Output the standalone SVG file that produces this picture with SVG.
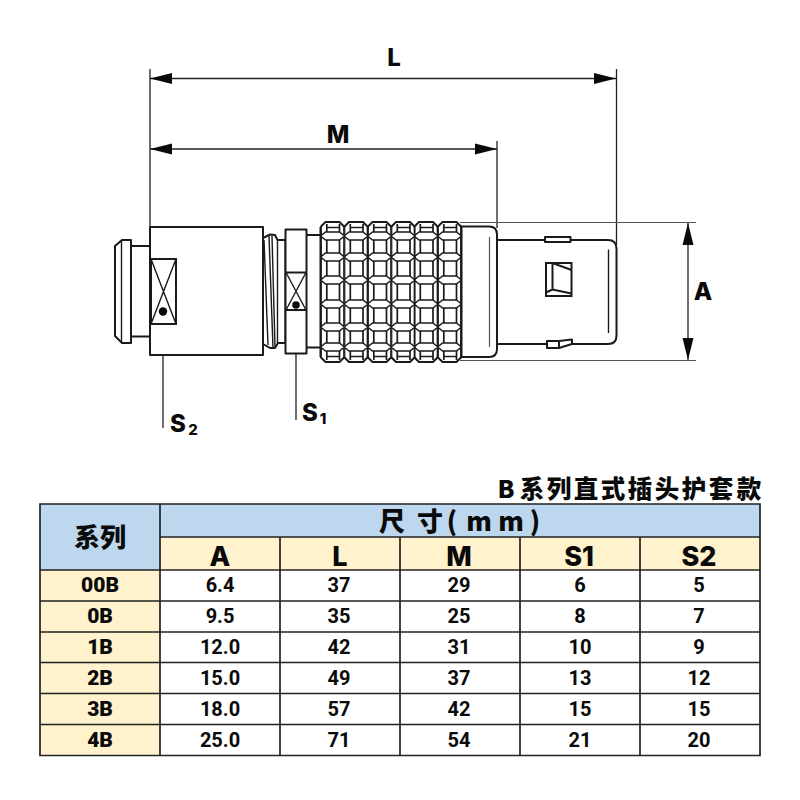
<svg xmlns="http://www.w3.org/2000/svg" xmlns:xlink="http://www.w3.org/1999/xlink" width="800" height="800" viewBox="0 0 800 800">
<style>
text{font-family:"Noto Sans CJK SC","Noto Sans",sans-serif;font-weight:900;fill:#0a0a0a;text-anchor:middle}
.o{fill:#fff;stroke:#1a1a1a;stroke-width:2;stroke-linejoin:round}
.n{fill:none;stroke:#1a1a1a;stroke-width:1.4}
.k{fill:none;stroke:#1a1a1a;stroke-width:1.7}
.h6{fill:#fff;stroke:#1a1a1a;stroke-width:1.6;stroke-linejoin:round}
.m{fill:none;stroke:#1a1a1a;stroke-width:2}
.d{fill:none;stroke:#222;stroke-width:1.3}
.g{fill:none;stroke:#555;stroke-width:1.2}
.a{fill:#0a0a0a}
.lat{font-family:Inter,"Noto Sans",sans-serif;font-weight:800}
.dim{font-size:24px}
.sub{font-size:15px}
.grid{fill:none;stroke:#222;stroke-width:1.7}
.v text{font-family:Roboto,"Noto Sans",sans-serif;font-weight:700;font-size:20px}
.r text{font-family:Roboto,"Noto Sans",sans-serif;font-weight:900;font-size:21px}
.h{font-size:27px}
</style>
<defs>
<polygon id="hex" class="h6" points="0,0 5,-4 19,-4 24,0 19,4 5,4"/>
<g id="col">
<path fill="#fff" d="M0,227 L5,222 L19,222 L24,227 L24,357 L19,362 L5,362 L0,357 Z"/>
<path class="m" d="M0,227 L5,222 L19,222 L24,227 M0,357 L5,362 L19,362 L24,357"/>
<path class="k" d="M0.5,227 V357 M23.5,227 V357 M6.3,224 V360 M19,224 V360 M5.5,227.5 H19 M5.5,356.5 H19"/>
<use href="#hex" xlink:href="#hex" y="236"/><use href="#hex" xlink:href="#hex" y="257"/><use href="#hex" xlink:href="#hex" y="280"/><use href="#hex" xlink:href="#hex" y="304"/><use href="#hex" xlink:href="#hex" y="327"/><use href="#hex" xlink:href="#hex" y="347"/>
</g>
</defs>
<g id="connectors">
<path class="d" d="M150,69 V227 M616.5,69 V245 M497,141 V228"/>
<path class="d" d="M150,78.5 H616 M150,149 H497 M688,222.5 V360.5"/>
<path class="g" d="M460,222.5 H696 M460,360.5 H696"/>
<path class="a" d="M150,78.5 L172,73 V84 Z M616,78.5 L594,73 V84 Z M150,149 L172,143.5 V154.5 Z M497,149 L475,143.5 V154.5 Z M688,223 L682.5,245 H693.5 Z M688,360 L682.5,338 H693.5 Z"/>
<path class="d" d="M163,312 V428 M296,305 V420" stroke-width="1.5"/>
</g>
<g id="plug-tail">
<path class="o" d="M115,246 L122,240 H131 V343 H122 L115,336 Z"/>
<path class="n" d="M121.5,241 V342"/>
<rect class="o" x="131" y="246" width="19" height="90.5"/>
</g>
<g id="shell">
<rect class="o" x="150" y="227" width="113" height="128"/>
<rect class="m" x="151" y="259" width="25" height="65"/>
<path class="n" d="M151,259 L176,324 M176,259 L151,324"/>
<circle class="a" cx="163" cy="311.5" r="4.2"/>
</g>
<g id="thread">
<path class="o" d="M263,238 L270,234.5 L275,235 L277.5,240 H285.5 V343 H278 L275,348 L270,348 L263,344 Z"/>
<path class="n" d="M264,240 L268,345 M269,236 L273,348 M272,236 L275,347 M277.5,240 V343"/>
</g>
<g id="nut">
<rect class="o" x="285.5" y="229.5" width="21" height="124"/>
<path class="m" d="M285.5,272.5 H306.5 M285.5,310 H306.5"/>
<path class="n" d="M286,272.5 L306,310 M306,272.5 L286,310"/>
<circle class="a" cx="296" cy="305" r="3.8"/>
<path class="m" d="M306.5,235 H321 M306.5,347.5 H321"/>
</g>
<g id="knurl">
<use href="#col" xlink:href="#col" x="437.5"/><use href="#col" xlink:href="#col" x="414"/><use href="#col" xlink:href="#col" x="391"/><use href="#col" xlink:href="#col" x="367.5"/><use href="#col" xlink:href="#col" x="344"/><use href="#col" xlink:href="#col" x="320.5"/>
<path class="m" d="M320.5,227 V357 M461.5,227 V357"/>
</g>
<g id="collar">
<path class="o" d="M461.5,226.5 H489 Q497,226.5 497,234.5 V349 Q497,357 489,357 H461.5 Z"/>
<path class="g" d="M489.5,237 V347" stroke-width="2"/>
</g>
<g id="insert">
<path class="m" d="M497,240 H608 Q616.5,240 616.5,248.5 V335.5 Q616.5,344 608,344 H497"/>
<path class="n" d="M608.5,249.5 V333"/>
<rect class="o" x="545" y="237" width="25.5" height="5"/>
<rect class="m" x="546" y="263" width="25.5" height="33"/>
<path class="m" d="M552.5,263 V289.5 M552.5,263 L571.5,270 M552.5,289.5 L571.5,293.5 M546,292.5 L552.5,289.5"/>
<path class="o" d="M547,341 H559 V348 H547 Z M559,341 L572,339.5 V344 L559,348 Z"/>
</g>
<g id="dim-labels">
<text class="dim lat" x="394" y="66">L</text>
<text class="dim lat" x="338" y="143">M</text>
<text class="dim lat" x="703" y="300">A</text>
<text class="dim lat" x="178" y="432">S</text><text class="sub lat" x="193" y="435">2</text>
<text class="dim lat" x="310" y="421">S</text><text class="sub lat" x="323" y="424">1</text>
</g>
<g id="table">
<text x="506 532 559 586 613 640 667 694 721 749" y="498" style="font-size:24.5px">B系列直式插头护套款</text>
<rect x="40" y="504" width="120" height="66" fill="#BDD7EE"/>
<rect x="160" y="504" width="600" height="33" fill="#BDD7EE"/>
<rect x="160" y="537" width="600" height="33" fill="#FFF2CC"/>
<rect x="40" y="570" width="120" height="185.5" fill="#FFF2CC"/>
<rect x="160" y="570" width="600" height="185.5" fill="#fff"/>
<path class="grid" d="M40,504 H760 V755.5 H40 Z M160,504 V755.5 M280,537 V755.5 M400,537 V755.5 M520,537 V755.5 M640,537 V755.5 M160,537 H760 M40,570 H760 M40,601 H760 M40,632 H760 M40,662.5 H760 M40,693.5 H760 M40,724.5 H760"/>
<text x="100" y="547" style="font-size:26px">系列</text>
<text x="392 430 452 479 511 535" y="530.5" style="font-size:26px">尺寸(mm)</text>
<text class="h lat" x="220" y="566">A</text><text class="h lat" x="340" y="566">L</text><text class="h lat" x="459" y="566">M</text><text class="h lat" x="579" y="566">S1</text><text class="h lat" x="699" y="566">S2</text>
<g class="r"><text x="100" y="592">00B</text><text x="100" y="623">0B</text><text x="100" y="654">1B</text><text x="100" y="684.5">2B</text><text x="100" y="716">3B</text><text x="100" y="746.5">4B</text></g>
<g class="v">
<text x="220" y="592">6.4</text><text x="339" y="592">37</text><text x="459" y="592">29</text><text x="580" y="592">6</text><text x="699" y="592">5</text>
<text x="220" y="623">9.5</text><text x="339" y="623">35</text><text x="459" y="623">25</text><text x="580" y="623">8</text><text x="699" y="623">7</text>
<text x="220" y="654">12.0</text><text x="339" y="654">42</text><text x="459" y="654">31</text><text x="580" y="654">10</text><text x="699" y="654">9</text>
<text x="220" y="684.5">15.0</text><text x="339" y="684.5">49</text><text x="459" y="684.5">37</text><text x="580" y="684.5">13</text><text x="699" y="684.5">12</text>
<text x="220" y="716">18.0</text><text x="339" y="716">57</text><text x="459" y="716">42</text><text x="580" y="716">15</text><text x="699" y="716">15</text>
<text x="220" y="746.5">25.0</text><text x="339" y="746.5">71</text><text x="459" y="746.5">54</text><text x="580" y="746.5">21</text><text x="699" y="746.5">20</text>
</g>
</g>
</svg>
